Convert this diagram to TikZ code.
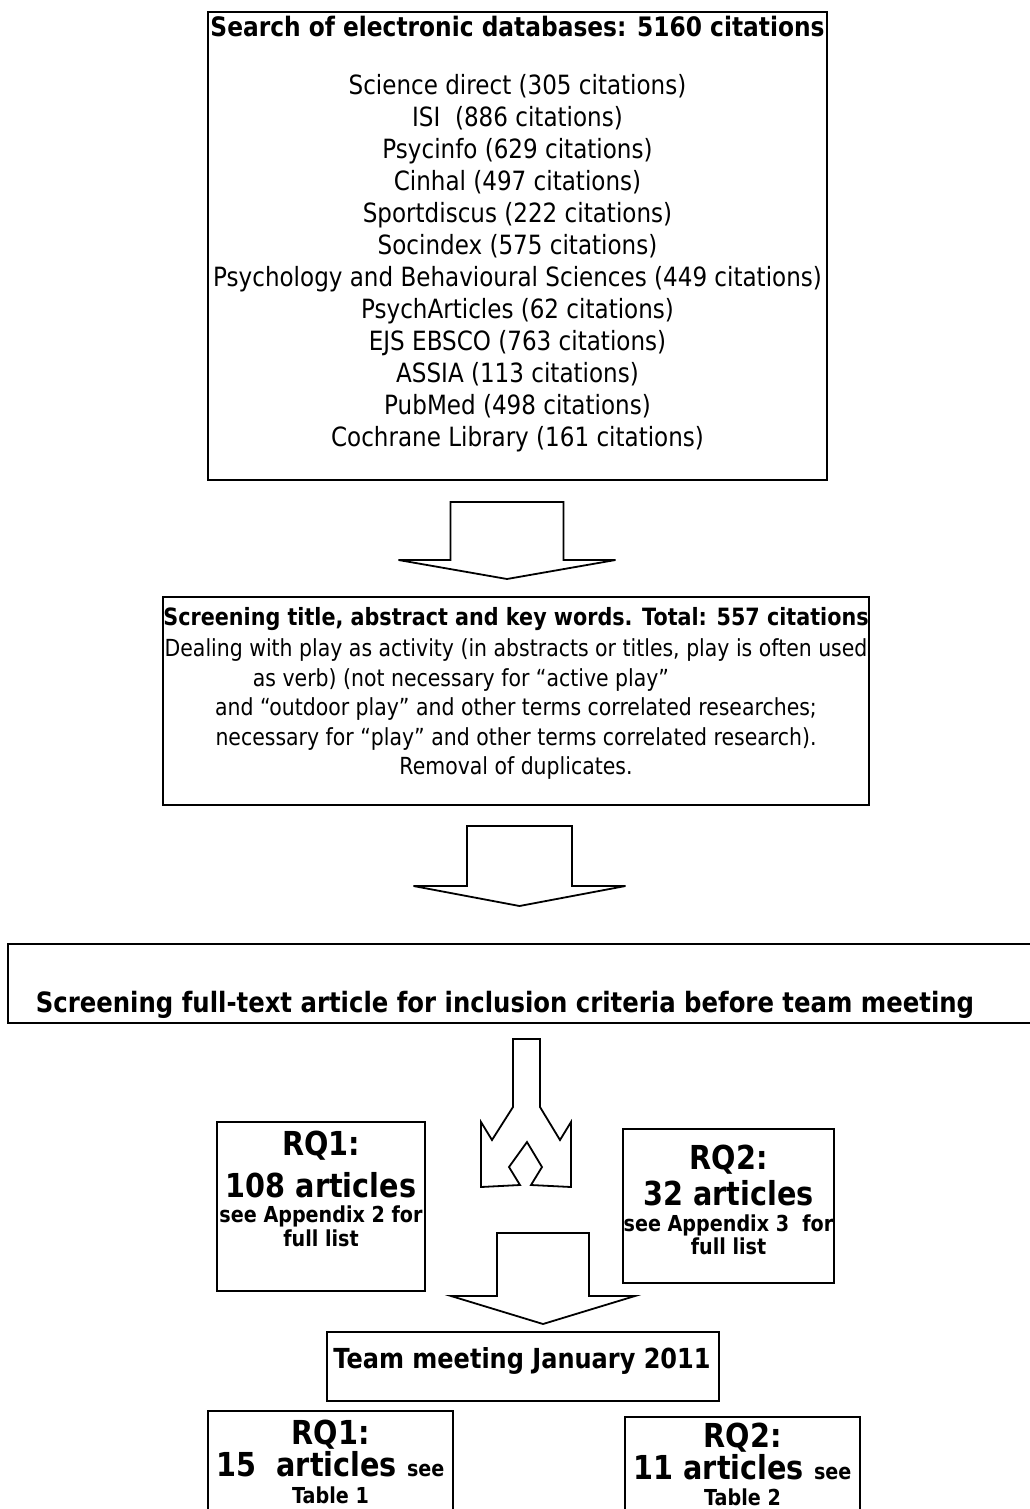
\documentclass[tikz,border=0pt]{standalone}
\usepackage{fontspec}
\setmainfont{DejaVu Sans}[FakeStretch=0.87]
\usetikzlibrary{positioning}

% dimensioni dei caratteri
\newcommand{\bigbf}{\fontsize{33}{38}\selectfont\bfseries}
\newcommand{\smallbf}{\fontsize{22}{26}\selectfont\bfseries}

% freccia a blocco verso il basso: x, cima, spalla, punta, mezzo fusto, mezza testa
\newcommand{\blockdown}[6]{%
  \draw[arrowshape] ({#1-#5},#2) -- ({#1+#5},#2) -- ({#1+#5},#3) -- ({#1+#6},#3)
    -- (#1,#4) -- ({#1-#6},#3) -- ({#1-#5},#3) -- cycle;}

\begin{document}
\begin{tikzpicture}[
        % unita in pixel, asse y verso il basso
        x=1pt, y=-1pt,
        % Stili per riquadri e testi
        box/.style={draw, line width=1.8pt, rectangle, inner sep=0pt},
        arrowshape/.style={line width=1.8pt, line join=miter},
        headtext/.style={anchor=base, inner sep=0pt, font=\fontsize{26.8}{32}\selectfont\bfseries},
        listtext/.style={anchor=north, inner sep=0pt, align=center, font=\fontsize{26.5}{32}\selectfont},
        bodytext/.style={anchor=north, inner sep=0pt, align=center, font=\fontsize{23.5}{29.5}\selectfont},
        bigtext/.style={anchor=base, inner sep=0pt, font=\bigbf},
        smalltext/.style={anchor=base, inner sep=0pt, font=\smallbf}
    ]

    \path[use as bounding box, fill=white] (0,0) rectangle (1030,1509);

    % ricerca nelle banche dati
    \node[box, minimum width=619pt, minimum height=468pt] (search) at (517.5,246) {};
    \node[headtext] (searchtitle) at (517.5,36.5) {Search of electronic databases: 5160 citations};
    \node[listtext] (dblist) at (517.5,74.6) {Science direct (305 citations)\\
        ISI\ \ (886 citations)\\
        Psycinfo (629 citations)\\
        Cinhal (497 citations)\\
        Sportdiscus (222 citations)\\
        Socindex (575 citations)\\
        Psychology and Behavioural Sciences (449 citations)\\
        PsychArticles (62 citations)\\
        EJS EBSCO (763 citations)\\
        ASSIA (113 citations)\\
        PubMed (498 citations)\\
        Cochrane Library (161 citations)};

    \blockdown{507}{502}{560}{579}{56.5}{108.5}

    % screening di titoli e abstract
    \node[box, minimum width=706pt, minimum height=208pt] (screen) at (516,701) {};
    \node[headtext, font=\fontsize{23.8}{29.5}\selectfont\bfseries] (screentitle) at (516,625.7)
        {Screening title, abstract and key words. Total: 557 citations};
    \node[bodytext] (screenbody) at (516,638.6) {Dealing with play as activity (in abstracts or titles, play is often used\\
        as verb) (not necessary for “active play”\hspace*{110pt}\mbox{}\\
        and “outdoor play” and other terms correlated researches;\\
        necessary for “play” and other terms correlated research).\\
        Removal of duplicates.};

    \blockdown{519.5}{826}{886}{906}{52.5}{106}

    % testo completo
    \node[box, minimum width=1037pt, minimum height=79pt] (fulltext) at (526.5,983.5) {};
    \node[headtext, font=\fontsize{28}{33}\selectfont\bfseries] (fulltexttitle) at (505,1012)
        {Screening full-text article for inclusion criteria before team meeting};

    % freccia divisa
    \draw[arrowshape] (513,1039) -- (540,1039) -- (540,1107) -- (560,1140) -- (571,1122)
        -- (571,1187) -- (531,1185) -- (542,1167) -- (527,1142) -- (509,1167)
        -- (520,1185) -- (481,1187) -- (481,1122) -- (492,1140) -- (513,1107) -- cycle;

    % RQ1 e RQ2 prima della riunione
    \node[box, minimum width=208pt, minimum height=169pt] (rqone) at (321,1206.5) {};
    \node[bigtext] (rqonehead) at (321,1155) {RQ1:};
    \node[bigtext] (rqonecount) at (321,1197) {108 articles};
    \node[smalltext] (rqonesee) at (321,1222) {see Appendix 2 for};
    \node[smalltext] (rqonelist) at (321,1246) {full list};

    \node[box, minimum width=211pt, minimum height=154pt] (rqtwo) at (728.5,1206) {};
    \node[bigtext] (rqtwohead) at (728.5,1169) {RQ2:};
    \node[bigtext] (rqtwocount) at (728.5,1205) {32 articles};
    \node[smalltext] (rqtwosee) at (728.5,1231) {see Appendix 3\ \ for};
    \node[smalltext] (rqtwolist) at (728.5,1254) {full list};

    \blockdown{543}{1233}{1296}{1324}{46}{92}

    % riunione del gruppo
    \node[box, minimum width=392pt, minimum height=69pt] (team) at (523,1366.5) {};
    \node[headtext, font=\fontsize{27.6}{33}\selectfont\bfseries] (teamtitle) at (522,1368)
        {Team meeting January 2011};

    % risultati finali
    \node[box, minimum width=245pt, minimum height=119pt] (rqonefinal) at (330.5,1470.5) {};
    \node[bigtext] (rqonefinalhead) at (330.5,1444) {RQ1:};
    \node[bigtext] (rqonefinalcount) at (330.5,1476) {15\ \ articles {\smallbf see}};
    \node[smalltext] (rqonefinaltable) at (330.5,1503) {Table 1};

    \node[box, minimum width=235pt, minimum height=113pt] (rqtwofinal) at (742.5,1473.5) {};
    \node[bigtext] (rqtwofinalhead) at (742.5,1447) {RQ2:};
    \node[bigtext] (rqtwofinalcount) at (742.5,1479) {11 articles {\smallbf see}};
    \node[smalltext] (rqtwofinaltable) at (742.5,1505) {Table 2};
\end{tikzpicture}
\end{document}
